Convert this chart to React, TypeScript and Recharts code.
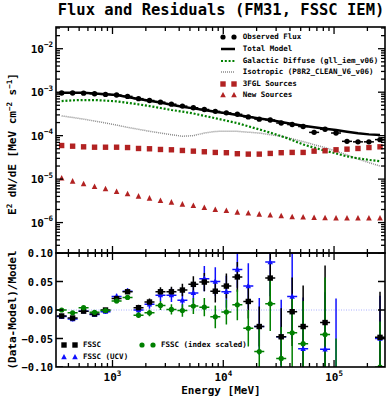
import React from 'react';
import { ComposedChart, Line, Scatter, XAxis, YAxis, ErrorBar, ReferenceLine } from 'recharts';

const FONT = "'DejaVu Sans Mono', monospace";

// bin centres [MeV]
const energies = [347.5, 436.5, 548.3, 688.7, 865.0, 1088.9, 1367.7, 1717.9, 2157.7, 2710.1, 3404.1, 4275.6, 5370.3, 6745.3, 8472.4, 10666, 13397, 16827, 21135, 26546, 33343, 41879, 52602, 66069, 82985, 104232, 130918, 164437, 206538, 260016];

// E^2 dN/dE [MeV cm^-2 s^-1]
const observedFlux = [9.6e-4, 9.6e-4, 9.5e-4, 9.2e-4, 8.9e-4, 8.6e-4, 8.0e-4, 7.1e-4, 6.45e-4, 5.9e-4, 5.3e-4, 4.78e-4, 4.38e-4, 4.0e-4, 3.62e-4, 3.35e-4, 3.1e-4, 2.7e-4, 2.4e-4, 2.3e-4, 1.95e-4, 1.8e-4, 1.62e-4, 1.19e-4, 1.4e-4, 1.15e-4, 7.4e-5, 7.2e-5, 7.2e-5, 8.1e-5];
const totalModel = [9.74e-4, 9.74e-4, 9.74e-4, 9.33e-4, 8.99e-4, 8.62e-4, 7.76e-4, 6.98e-4, 6.34e-4, 5.77e-4, 5.16e-4, 4.64e-4, 4.24e-4, 3.89e-4, 3.56e-4, 3.27e-4, 2.99e-4, 2.73e-4, 2.49e-4, 2.29e-4, 2.06e-4, 1.85e-4, 1.69e-4, 1.56e-4, 1.44e-4, 1.35e-4, 1.23e-4, 1.13e-4, 1.07e-4, 1.04e-4];
const galacticDiffuse = [6.24e-4, 6.5e-4, 6.6e-4, 6.6e-4, 6.4e-4, 6.15e-4, 5.7e-4, 5.25e-4, 4.8e-4, 4.33e-4, 3.9e-4, 3.57e-4, 3.24e-4, 2.85e-4, 2.52e-4, 2.21e-4, 1.94e-4, 1.64e-4, 1.39e-4, 1.17e-4, 9.75e-5, 7.9e-5, 6.25e-5, 5.3e-5, 4.5e-5, 3.9e-5, 3.33e-5, 3.0e-5, 2.77e-5, 2.57e-5];
const isotropic = [2.85e-4, 2.62e-4, 2.4e-4, 2.17e-4, 1.96e-4, 1.75e-4, 1.55e-4, 1.4e-4, 1.26e-4, 1.15e-4, 1.05e-4, 9.7e-5, 1.0e-4, 1.15e-4, 1.25e-4, 1.27e-4, 1.26e-4, 1.2e-4, 1.15e-4, 1.05e-4, 9.7e-5, 8.5e-5, 7.3e-5, 6.2e-5, 5.3e-5, 4.4e-5, 3.6e-5, 2.9e-5, 2.4e-5, 2.0e-5];
const fglSources = [5.93e-5, 5.72e-5, 5.53e-5, 5.42e-5, 5.42e-5, 5.42e-5, 5.33e-5, 5.07e-5, 4.99e-5, 4.81e-5, 4.73e-5, 4.56e-5, 4.4e-5, 4.26e-5, 4.11e-5, 4.05e-5, 3.84e-5, 3.76e-5, 3.76e-5, 3.9e-5, 4.05e-5, 4.11e-5, 4.11e-5, 4.4e-5, 4.49e-5, 4.73e-5, 4.89e-5, 5.07e-5, 5.33e-5, 5.53e-5];
const newSources = [1.04e-5, 8.85e-6, 7.67e-6, 6.65e-6, 5.89e-6, 5.11e-6, 4.52e-6, 4.0e-6, 3.6e-6, 3.17e-6, 2.91e-6, 2.62e-6, 2.43e-6, 2.19e-6, 1.97e-6, 1.87e-6, 1.71e-6, 1.63e-6, 1.54e-6, 1.47e-6, 1.41e-6, 1.34e-6, 1.32e-6, 1.29e-6, 1.27e-6, 1.25e-6, 1.25e-6, 1.25e-6, 1.25e-6, 1.25e-6];

// (Data-Model)/Model
const resFssc = [-0.0105, -0.014, -0.002, -0.007, 0.0, 0.020, 0.032, 0.004, 0.014, 0.032, 0.032, 0.035, 0.045, 0.049, 0.033, 0.042, 0.058, 0.015, -0.029, 0.056, -0.047, -0.003, -0.029, null, -0.022, null, null, null, null, -0.048];
const errFssc = [0.003, 0.003, 0.003, 0.003, 0.003, 0.004, 0.004, 0.005, 0.006, 0.008, 0.009, 0.011, 0.014, 0.016, 0.02, 0.022, 0.026, 0.03, 0.035, 0.045, 0.05, 0.06, 0.072, null, 0.1, null, null, null, null, 0.08];
const resUcv = [-0.0116, -0.016, -0.002, -0.008, -0.003, 0.0235, 0.033, 0.0, 0.01, 0.026, 0.026, 0.017, 0.030, 0.055, 0.050, 0.032, 0.071, 0.042, -0.029, 0.084, -0.047, 0.0235, -0.068, null, -0.069, -0.12, null, null, null, -0.05];
const errUcv = [0.004, 0.004, 0.004, 0.004, 0.004, 0.005, 0.005, 0.006, 0.008, 0.01, 0.012, 0.015, 0.018, 0.022, 0.025, 0.028, 0.032, 0.04, 0.05, 0.06, 0.065, 0.075, 0.09, null, 0.1, 0.14, null, null, null, 0.075];
const resScaled = [0.0, -0.005, 0.004, -0.004, -0.001, 0.016, 0.022, -0.009, -0.005, 0.008, 0.001, -0.001, 0.007, 0.005, -0.012, -0.0035, 0.009, -0.032, -0.073, 0.011, -0.085, -0.040, -0.059, null, -0.043, -0.13, null, null, null, -0.1];
const errScaled = [0.003, 0.003, 0.003, 0.003, 0.003, 0.004, 0.004, 0.005, 0.006, 0.008, 0.009, 0.011, 0.014, 0.016, 0.02, 0.022, 0.027, 0.032, 0.04, 0.048, 0.055, 0.065, 0.075, null, 0.1, 0.08, null, null, null, 0.08];

const xTicks = [400, 500, 600, 700, 800, 900, 1000, 2000, 3000, 4000, 5000, 6000, 7000, 8000, 9000, 10000, 20000, 30000, 40000, 50000, 60000, 70000, 80000, 90000, 100000, 200000];
const fluxTicks = [
  2e-7, 3e-7, 4e-7, 5e-7, 6e-7, 7e-7, 8e-7, 9e-7,
  1e-6, 2e-6, 3e-6, 4e-6, 5e-6, 6e-6, 7e-6, 8e-6, 9e-6,
  1e-5, 2e-5, 3e-5, 4e-5, 5e-5, 6e-5, 7e-5, 8e-5, 9e-5,
  1e-4, 2e-4, 3e-4, 4e-4, 5e-4, 6e-4, 7e-4, 8e-4, 9e-4,
  1e-3, 2e-3, 3e-3, 4e-3, 5e-3, 6e-3, 7e-3, 8e-3, 9e-3,
  1e-2, 2e-2, 3e-2,
];
const resTicks = [-0.1, -0.05, 0, 0.05, 0.1];
const resTickLabels = ['\u22120.10', '\u22120.05', '0.00', '0.05', '0.10'];

const X_DOMAIN = [309, 288400];
const FLUX_DOMAIN = [1.995e-7, 0.03162];

// plot frame
const L = 56, R = 385, T1 = 27, B1 = 253, B2 = 367;

const isDecade = (v: number) => Math.abs(Math.log10(v) - Math.round(Math.log10(v))) < 1e-6;
const TICK = { stroke: '#000', strokeWidth: 1.3 };

// top panel x ticks; also carries the energy labels under the residual panel
const FluxXTick = (p: any) => {
  const v = p.payload.value;
  const major = isDecade(v);
  const len = major ? 7 : 4;
  return (
    <g>
      <line x1={p.x} x2={p.x} y1={B1} y2={B1 - len} {...TICK} />
      <line x1={p.x} x2={p.x} y1={T1} y2={T1 + len} {...TICK} />
      {major && (
        <text x={p.x} y={381} textAnchor="middle" fontFamily={FONT} fontWeight="bold" fontSize={11} fill="#000">
          10<tspan dy={-5} fontSize={7.5}>{Math.round(Math.log10(v))}</tspan>
        </text>
      )}
    </g>
  );
};

const ResXTick = (p: any) => {
  const len = isDecade(p.payload.value) ? 7 : 4;
  return (
    <g>
      <line x1={p.x} x2={p.x} y1={B2} y2={B2 - len} {...TICK} />
      <line x1={p.x} x2={p.x} y1={B1} y2={B1 + len} {...TICK} />
    </g>
  );
};

const FluxYTick = (p: any) => {
  const v = p.payload.value;
  const major = isDecade(v);
  const len = major ? 7 : 4;
  return (
    <g>
      <line x1={L} x2={L + len} y1={p.y} y2={p.y} {...TICK} />
      <line x1={R} x2={R - len} y1={p.y} y2={p.y} {...TICK} />
      {major && (
        <text x={53} y={p.y + 4} textAnchor="end" fontFamily={FONT} fontWeight="bold" fontSize={11} fill="#000">
          10<tspan dy={-5.5} fontSize={7.5}>{'\u2212' + Math.abs(Math.round(Math.log10(v)))}</tspan>
        </text>
      )}
    </g>
  );
};

const ResYTick = (p: any) => (
  <g>
    <line x1={L} x2={L + 7} y1={p.y} y2={p.y} {...TICK} />
    <line x1={R} x2={R - 7} y1={p.y} y2={p.y} {...TICK} />
    <text x={53} y={p.y + 4} textAnchor="end" fontFamily={FONT} fontWeight="bold" fontSize={10.5} fill="#000">
      {resTickLabels[p.index]}
    </text>
  </g>
);

const withBar = (color: string, mark: (cx: number, cy: number) => React.ReactNode) => (p: any) => (
  <g>
    <line x1={p.cx - 5} x2={p.cx + 5} y1={p.cy} y2={p.cy} stroke={color} strokeWidth={1.5} />
    {mark(p.cx, p.cy)}
  </g>
);
const square = (color: string, s: number) => (cx: number, cy: number) => (
  <rect x={cx - s / 2} y={cy - s / 2} width={s} height={s} fill={color} />
);
const circle = (color: string, r: number) => (cx: number, cy: number) => (
  <circle cx={cx} cy={cy} r={r} fill={color} />
);
const triangle = (color: string, s: number) => (cx: number, cy: number) => (
  <polygon points={`${cx},${cy - s * 0.6} ${cx - s / 2},${cy + s * 0.4} ${cx + s / 2},${cy + s * 0.4}`} fill={color} />
);

const RED = '#b22222';
const GREEN = '#008000';
const BLUE = '#1010ff';
const GREY = '#8a8a8a';

const LegendMark = ({ kind, color }: { kind: string; color: string }) => (
  <svg width={18} height={10} style={{ display: 'block' }}>
    {kind === 'line' && <line x1={1} x2={15} y1={5} y2={5} stroke={color} strokeWidth={2.5} />}
    {kind === 'dots' && <line x1={1} x2={15} y1={5} y2={5} stroke={color} strokeWidth={2} strokeDasharray="2 1.8" />}
    {kind === 'fine' && <line x1={1} x2={15} y1={5} y2={5} stroke={color} strokeWidth={1.4} strokeDasharray="1 1" />}
    {kind === 'circle' && [3, 14].map((x) => <circle key={x} cx={x} cy={5} r={2.6} fill={color} />)}
    {kind === 'square' && [3, 14].map((x) => <rect key={x} x={x - 2.7} y={2.3} width={5.4} height={5.4} fill={color} />)}
    {kind === 'triangle' && [3, 14].map((x) => <polygon key={x} points={`${x},2 ${x - 2.8},7.3 ${x + 2.8},7.3`} fill={color} />)}
  </svg>
);

const fluxLegend = [
  { label: 'Observed Flux', kind: 'circle', color: '#000' },
  { label: 'Total Model', kind: 'line', color: '#000' },
  { label: 'Galactic Diffuse (gll_iem_v06)', kind: 'dots', color: GREEN },
  { label: 'Isotropic (P8R2_CLEAN_V6_v06)', kind: 'fine', color: GREY },
  { label: '3FGL Sources', kind: 'square', color: RED },
  { label: 'New Sources', kind: 'triangle', color: RED },
];
const resLegend = [
  { label: 'FSSC', kind: 'square', color: '#000', x: 61, y: 345 },
  { label: 'FSSC (UCV)', kind: 'triangle', color: BLUE, x: 61, y: 356.7 },
  { label: 'FSSC (index scaled)', kind: 'circle', color: GREEN, x: 139, y: 345 },
];

// residual chart is clipped to its frame plus the left label strip
const RES_CLIP = `polygon(0px 240px, ${L}px 240px, ${L}px ${B1}px, ${R + 1}px ${B1}px, ${R + 1}px ${B2}px, ${L}px ${B2}px, ${L}px 375px, 0px 375px)`;

export default function App() {
  const fluxRows = energies.map((e, i) => ({
    e,
    obs: observedFlux[i],
    model: totalModel[i],
    gal: galacticDiffuse[i],
    iso: isotropic[i],
    fgl: fglSources[i],
    src: newSources[i],
  }));
  const rows = (res: (number | null)[], err: (number | null)[]) =>
    energies.map((e, i) => ({ e, r: res[i], err: err[i] })).filter((d) => d.r !== null);
  const fsscRows = rows(resFssc, errFssc);
  const ucvRows = rows(resUcv, errUcv);
  const scaledRows = rows(resScaled, errScaled);

  const legendText: React.CSSProperties = { fontFamily: FONT, fontWeight: 'bold', fontSize: 7.5, whiteSpace: 'nowrap', lineHeight: '10px' };

  return (
    <div style={{ position: 'absolute', left: 0, top: 0, width: 390, height: 413, background: '#fff', overflow: 'hidden' }}>
      <div style={{ position: 'absolute', left: 0, top: 1, width: 442, textAlign: 'center', fontFamily: FONT, fontWeight: 'bold', fontSize: 15.5, whiteSpace: 'nowrap' }}>
        Flux and Residuals (FM31, FSSC IEM)
      </div>

      <div style={{ position: 'absolute', left: 0, top: 0 }}>
        <ComposedChart width={390} height={413} data={fluxRows} margin={{ top: T1, right: 390 - R, bottom: 413 - B1 - 1, left: 0 }}>
          <XAxis dataKey="e" type="number" scale="log" domain={X_DOMAIN} allowDataOverflow ticks={xTicks} interval={0} height={1} axisLine={false} tickLine={false} tick={FluxXTick} />
          <YAxis type="number" scale="log" domain={FLUX_DOMAIN} allowDataOverflow ticks={fluxTicks} interval={0} width={L} axisLine={false} tickLine={false} tick={FluxYTick} />
          <Line dataKey="iso" type="linear" stroke={GREY} strokeWidth={1.5} strokeDasharray="1 1" dot={false} isAnimationActive={false} />
          <Line dataKey="gal" type="linear" stroke={GREEN} strokeWidth={2.2} strokeDasharray="2 1.8" dot={false} isAnimationActive={false} />
          <Scatter dataKey="fgl" shape={(p: any) => square(RED, 5.4)(p.cx, p.cy)} isAnimationActive={false} />
          <Scatter dataKey="src" shape={(p: any) => triangle(RED, 5.6)(p.cx, p.cy)} isAnimationActive={false} />
          <Line dataKey="model" type="linear" stroke="#000" strokeWidth={2.5} dot={false} isAnimationActive={false} />
          <Scatter dataKey="obs" shape={withBar('#000', circle('#000', 2.7))} isAnimationActive={false} />
        </ComposedChart>
      </div>

      <div style={{ position: 'absolute', left: 0, top: 0, clipPath: RES_CLIP }}>
        <ComposedChart width={390} height={413} margin={{ top: B1, right: 390 - R, bottom: 413 - B2 - 1, left: 0 }}>
          <XAxis dataKey="e" type="number" scale="log" domain={X_DOMAIN} allowDataOverflow ticks={xTicks} interval={0} height={1} axisLine={false} tickLine={false} tick={ResXTick} />
          <YAxis type="number" domain={[-0.1, 0.1]} allowDataOverflow ticks={resTicks} interval={0} width={L} axisLine={false} tickLine={false} tick={ResYTick} />
          <ReferenceLine y={0} stroke="#aab0ff" strokeWidth={1} strokeDasharray="1 1.5" />
          <Scatter data={ucvRows} dataKey="r" shape={withBar(BLUE, triangle(BLUE, 5.4))} isAnimationActive={false}>
            <ErrorBar dataKey="err" direction="y" width={0} stroke={BLUE} strokeWidth={1.5} isAnimationActive={false} />
          </Scatter>
          <Scatter data={fsscRows} dataKey="r" shape={withBar('#000', square('#000', 5.4))} isAnimationActive={false}>
            <ErrorBar dataKey="err" direction="y" width={0} stroke="#000" strokeWidth={1.5} isAnimationActive={false} />
          </Scatter>
          <Scatter data={scaledRows} dataKey="r" shape={withBar(GREEN, circle(GREEN, 2.6))} isAnimationActive={false}>
            <ErrorBar dataKey="err" direction="y" width={0} stroke={GREEN} strokeWidth={1.5} isAnimationActive={false} />
          </Scatter>
        </ComposedChart>
      </div>

      <svg width={390} height={413} style={{ position: 'absolute', left: 0, top: 0, pointerEvents: 'none' }}>
        <rect x={L} y={T1} width={R - L} height={B1 - T1} fill="none" stroke="#000" strokeWidth={1.6} />
        <rect x={L} y={B1} width={R - L} height={B2 - B1} fill="none" stroke="#000" strokeWidth={1.6} />
      </svg>

      {fluxLegend.map((d, i) => (
        <div key={d.label} style={{ position: 'absolute', left: 220, top: 32.3 + i * 11.6, display: 'flex', alignItems: 'center', height: 10 }}>
          <LegendMark kind={d.kind} color={d.color} />
          <span style={{ ...legendText, marginLeft: 4.7 }}>{d.label}</span>
        </div>
      ))}
      {resLegend.map((d) => (
        <div key={d.label} style={{ position: 'absolute', left: d.x, top: d.y - 5, display: 'flex', alignItems: 'center', height: 10 }}>
          <LegendMark kind={d.kind} color={d.color} />
          <span style={{ ...legendText, marginLeft: 4 }}>{d.label}</span>
        </div>
      ))}

      <div style={{ position: 'absolute', left: 12, top: 144, transform: 'translate(-50%, -50%) rotate(-90deg)', fontFamily: FONT, fontWeight: 'bold', fontSize: 11, whiteSpace: 'nowrap' }}>
        E<sup style={{ fontSize: 7.5 }}>2</sup> dN/dE [MeV cm<sup style={{ fontSize: 7.5 }}>{'\u22122'}</sup> s<sup style={{ fontSize: 7.5 }}>{'\u22121'}</sup>]
      </div>
      <div style={{ position: 'absolute', left: 12, top: 310, transform: 'translate(-50%, -50%) rotate(-90deg)', fontFamily: FONT, fontWeight: 'bold', fontSize: 11, whiteSpace: 'nowrap' }}>
        (Data-Model)/Model
      </div>
      <div style={{ position: 'absolute', left: 0, top: 384, width: 442, textAlign: 'center', fontFamily: FONT, fontWeight: 'bold', fontSize: 11, lineHeight: '13px', whiteSpace: 'nowrap' }}>
        Energy [MeV]
      </div>
    </div>
  );
}
